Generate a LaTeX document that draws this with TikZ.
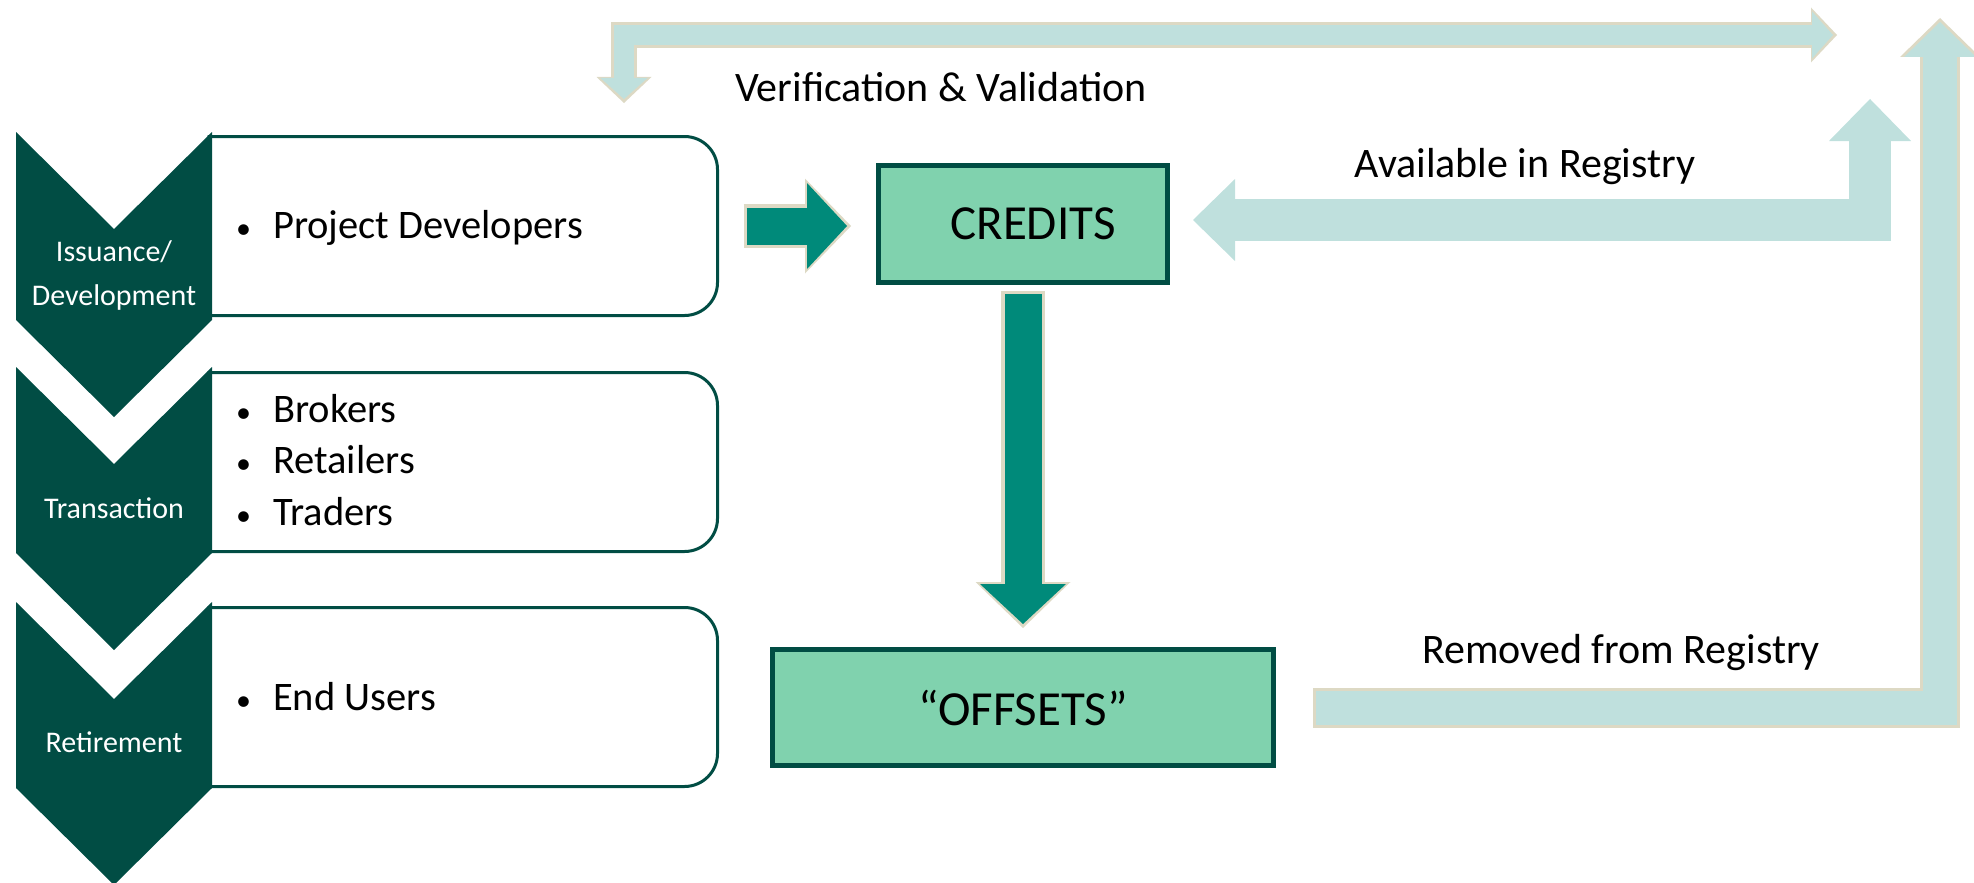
\documentclass[tikz,border=0pt]{standalone}
\usepackage{fontspec}
\setmainfont{Carlito}
\usetikzlibrary{arrows.meta,calc}

\definecolor{pine}{RGB}{1,77,68}
\definecolor{mint}{RGB}{128,210,174}
\definecolor{deepteal}{RGB}{0,138,122}
\definecolor{paleteal}{RGB}{191,224,221}
\definecolor{cream}{RGB}{221,217,196}

\begin{document}
\begin{tikzpicture}
	[x=1pt,y=-1pt,line join=miter,
	stagebox/.style={inner sep=0pt,outer sep=0pt,minimum width=504pt,minimum height=179pt},
	stageline/.style={draw=pine,line width=3pt,fill=white},
	stagelab/.style={text=white,align=center,inner sep=0pt,font=\fontsize{30}{44}\selectfont},
	item/.style={anchor=base west,inner sep=0pt,font=\fontsize{40.5}{48}\selectfont},
	unitbox/.style={draw=pine,line width=5pt,fill=mint,font=\fontsize{49}{58}\selectfont},
	note/.style={anchor=base,inner sep=0pt,font=\fontsize{42}{50}\selectfont},
	darkflow/.style={draw=deepteal,line width=37pt,shorten <=3pt,shorten >=4pt,-{Triangle[length=40pt,width=86pt,line width=0pt]},
		preaction={draw=cream,line width=44pt,shorten <=0pt,shorten >=0pt,-{Triangle[length=46pt,width=95pt,line width=0pt]}}},
	vvflow/.style={draw=paleteal,line width=20pt,shorten <=4pt,shorten >=4pt,{Triangle[length=21pt,width=47pt,line width=0pt]}-{Triangle[length=21pt,width=47pt,line width=0pt]},
		preaction={draw=cream,line width=26pt,shorten <=0pt,shorten >=0pt,{Triangle[length=26pt,width=55pt,line width=0pt]}-{Triangle[length=26pt,width=55pt,line width=0pt]}}},
	regflow/.style={draw=paleteal,line width=34pt,shorten <=3pt,shorten >=4pt,-{Triangle[length=35pt,width=72pt,line width=0pt]},
		preaction={draw=cream,line width=40pt,shorten <=0pt,shorten >=0pt,-{Triangle[length=39pt,width=80pt,line width=0pt]}}},
	availflow/.style={draw=paleteal,line width=42pt,{Triangle[length=42pt,width=82pt,line width=0pt]}-{Triangle[length=42pt,width=82pt,line width=0pt]}}]
	\useasboundingbox (0,0) rectangle (1974,883);

	% stage boxes, square on the chevron side
	\node[stagebox] (devbox) at (465.5,226) {};
	\node[stagebox] (tradebox) at (465.5,462) {};
	\node[stagebox] (retirebox) at (465.5,697) {};
	\draw[stageline] ([xshift=-6pt]devbox.north west) [rounded corners=33pt] -- (devbox.north east) -- (devbox.south east) -- ([xshift=-6pt]devbox.south west);
	\draw[stageline] ([xshift=-6pt]tradebox.north west) [rounded corners=33pt] -- (tradebox.north east) -- (tradebox.south east) -- ([xshift=-6pt]tradebox.south west);
	\draw[stageline] ([xshift=-6pt]retirebox.north west) [rounded corners=33pt] -- (retirebox.north east) -- (retirebox.south east) -- ([xshift=-6pt]retirebox.south west);

	% chevrons
	\fill[pine] (16,132) -- (114,229) -- (212,132) -- (212,320) -- (114,417) -- (16,320) -- cycle;
	\fill[pine] (16,367) -- (114,464) -- (212,367) -- (212,553) -- (114,650) -- (16,553) -- cycle;
	\fill[pine] (16,602) -- (114,699) -- (212,602) -- (212,788) -- (114,885) -- (16,788) -- cycle;
	\node[stagelab] (devlab) at (114,275) {Issuance/\\Development};
	\node[stagelab,anchor=base] (tradelab) at (114,518) {Transaction};
	\node[stagelab,anchor=base] (retirelab) at (114,752) {Retirement};

	% bullet lists
	\node[item] (pd) at (236,238) {{\fontsize{30}{30}\selectfont\textbullet}\hspace{22pt}Project Developers};
	\node[item] (brk) at (236,422) {{\fontsize{30}{30}\selectfont\textbullet}\hspace{22pt}Brokers};
	\node[item] (ret) at (236,473) {{\fontsize{30}{30}\selectfont\textbullet}\hspace{22pt}Retailers};
	\node[item] (trd) at (236,525) {{\fontsize{30}{30}\selectfont\textbullet}\hspace{22pt}Traders};
	\node[item] (eu) at (236,710) {{\fontsize{30}{30}\selectfont\textbullet}\hspace{22pt}End Users};

	% credits and offsets
	\node[unitbox,minimum width=289pt,minimum height=117pt] (credits) at (1023,224) {\hspace{20pt}CREDITS};
	\node[unitbox,minimum width=501pt,minimum height=116pt] (offsets) at (1023,707.5) {“OFFSETS”};

	% registry loop
	\coordinate (vvleft) at (624,103);
	\coordinate (vvright) at (1837,35);
	\coordinate (availtop) at (1870,99);
	\coordinate (regtop) at (1940,18);
	\draw[vvflow] (vvleft) -- (vvleft |- vvright) -- (vvright);
	\draw[availflow] ([xshift=23pt,yshift=4pt]credits.east) -- ([yshift=4pt]credits.east -| availtop) -- (availtop);
	\draw[regflow] ([xshift=37pt]offsets.east) -- (offsets.east -| regtop) -- (regtop);

	% main flow
	\draw[darkflow] ([xshift=26pt]devbox.east) -- ([xshift=-25pt]credits.west |- devbox.east);
	\draw[darkflow] ([yshift=-6pt]credits.south) -- ([yshift=19pt]offsets.north);

	% labels
	\node[note] (vvlab) at (941,102) {Verification \& Validation};
	\node[note] (availlab) at (1525,177) {Available in Registry};
	\node[note] (remlab) at (1621,663) {Removed from Registry};
\end{tikzpicture}
\end{document}
